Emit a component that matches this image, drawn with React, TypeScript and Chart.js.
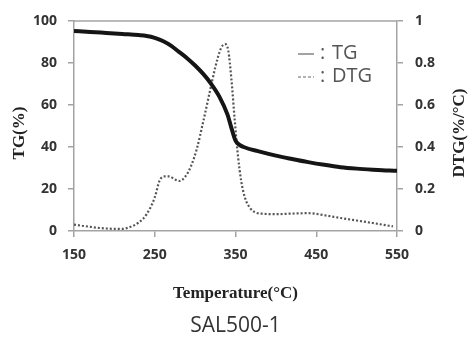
import React, { useEffect, useRef } from "react";
import { Chart, registerables } from "chart.js";

Chart.register(...registerables);

const tgTemp = [150, 170, 190, 210, 230, 240, 250, 260, 270, 280, 290, 300, 310, 320, 330, 340, 345, 350, 355, 360, 380, 400, 420, 440, 460, 480, 500, 520, 540, 550];
const tgValues = [95.2, 94.8, 94.3, 93.8, 93.3, 92.9, 92.0, 90.5, 88.3, 85.3, 82.3, 78.8, 74.8, 70.0, 64.0, 55.5, 49.0, 43.0, 41.0, 40.0, 37.8, 35.9, 34.3, 32.8, 31.5, 30.4, 29.7, 29.2, 28.8, 28.7];

const dtgTemp = [150, 160, 170, 180, 190, 200, 210, 220, 230, 240, 250, 256, 262, 268, 275, 281, 288, 295, 302, 310, 318, 325, 332, 337, 341, 345, 349, 353, 357, 362, 368, 375, 385, 400, 420, 440, 460, 480, 500, 520, 540, 545];
const dtgValues = [0.03, 0.025, 0.02, 0.015, 0.012, 0.01, 0.01, 0.02, 0.04, 0.08, 0.16, 0.24, 0.26, 0.26, 0.245, 0.238, 0.26, 0.31, 0.39, 0.52, 0.66, 0.78, 0.87, 0.89, 0.86, 0.72, 0.53, 0.36, 0.24, 0.155, 0.11, 0.088, 0.082, 0.08, 0.083, 0.085, 0.075, 0.062, 0.05, 0.038, 0.025, 0.022];

const xTicks = [150, 250, 350, 450, 550];
const yTicks = [0, 20, 40, 60, 80, 100];
const y1Ticks = [0, 0.2, 0.4, 0.6, 0.8, 1];

const leftTitle = "TG(%)";
const rightTitle = "DTG(%/°C)";
const xTitle = "Temperature(°C)";
const caption = "SAL500-1";
const legendLabels = ["TG", "DTG"];

const axisGray = "#a3a3a3";
const tickFont = { family: "'Open Sans', sans-serif", size: 14, weight: "bold" as const };
const serif = "'Liberation Serif', 'Times New Roman', serif";

export default function App() {
  const ref = useRef<HTMLCanvasElement | null>(null);

  useEffect(() => {
    document.body.style.margin = "0";
    const canvas = ref.current;
    if (!canvas) return;

    const decor = {
      id: "decor",
      afterDraw(chart: any) {
        const ctx = chart.ctx;
        const a = chart.chartArea;
        ctx.save();
        ctx.strokeStyle = axisGray;
        ctx.lineWidth = 1.5;
        ctx.beginPath();
        ctx.moveTo(a.left, a.top);
        ctx.lineTo(a.right, a.top);
        ctx.stroke();

        ctx.fillStyle = "#222";
        ctx.font = `bold 17px ${serif}`;
        ctx.textAlign = "center";
        ctx.textBaseline = "middle";
        ctx.save();
        ctx.translate(20, 133);
        ctx.rotate(-Math.PI / 2);
        ctx.fillText(leftTitle, 0, 0);
        ctx.restore();
        ctx.save();
        ctx.translate(460, 133);
        ctx.rotate(-Math.PI / 2);
        ctx.fillText(rightTitle, 0, 0);
        ctx.restore();
        ctx.fillText(xTitle, (a.left + a.right) / 2, 294);

        ctx.fillStyle = "#333";
        ctx.font = "21px 'Open Sans', sans-serif";
        ctx.fillText(caption, (a.left + a.right) / 2, 326);

        ctx.strokeStyle = "#666";
        ctx.lineWidth = 1.2;
        ctx.beginPath();
        ctx.moveTo(298, 54);
        ctx.lineTo(314, 54);
        ctx.stroke();
        ctx.setLineDash([3, 2]);
        ctx.beginPath();
        ctx.moveTo(298, 77);
        ctx.lineTo(314, 77);
        ctx.stroke();
        ctx.setLineDash([]);
        ctx.fillStyle = "#555";
        ctx.font = "20px 'Open Sans', sans-serif";
        ctx.textAlign = "left";
        ctx.fillText(":", 320, 53);
        ctx.fillText(":", 320, 76);
        ctx.fillText(legendLabels[0], 332, 53);
        ctx.fillText(legendLabels[1], 332, 76);
        ctx.restore();
      },
    };

    const chart = new Chart(canvas, {
      type: "line",
      data: {
        datasets: [
          {
            label: legendLabels[0],
            data: tgTemp.map((t, i) => ({ x: t, y: tgValues[i] })),
            yAxisID: "y",
            borderColor: "#151515",
            borderWidth: 4,
            pointRadius: 0,
            cubicInterpolationMode: "monotone",
            fill: false,
          },
          {
            label: legendLabels[1],
            data: dtgTemp.map((t, i) => ({ x: t, y: dtgValues[i] })),
            yAxisID: "y1",
            borderColor: "#555",
            borderWidth: 2.2,
            borderDash: [2, 2],
            pointRadius: 0,
            cubicInterpolationMode: "monotone",
            fill: false,
          },
        ],
      },
      options: {
        animation: false,
        responsive: false,
        layout: { padding: { top: 21, left: 0, right: 0, bottom: 0 } },
        plugins: { legend: { display: false }, tooltip: { enabled: false } },
        scales: {
          x: {
            type: "linear",
            min: 150,
            max: 550,
            afterBuildTicks: (s: any) => {
              s.ticks = xTicks.map((v) => ({ value: v }));
            },
            afterFit: (s: any) => {
              s.height = 107;
            },
            grid: { drawOnChartArea: false, color: axisGray, tickLength: 6, lineWidth: 1.5 },
            border: { color: axisGray, width: 1.5 },
            ticks: { font: tickFont, color: "#333", padding: 10, maxRotation: 0 },
          },
          y: {
            position: "left",
            min: 0,
            max: 100,
            afterBuildTicks: (s: any) => {
              s.ticks = yTicks.map((v) => ({ value: v }));
            },
            afterFit: (s: any) => {
              s.width = 74;
            },
            grid: { drawOnChartArea: false, color: axisGray, tickLength: 6, lineWidth: 1.5 },
            border: { color: axisGray, width: 1.5 },
            ticks: { font: tickFont, color: "#333", padding: 11 },
          },
          y1: {
            position: "right",
            min: 0,
            max: 1,
            afterBuildTicks: (s: any) => {
              s.ticks = y1Ticks.map((v) => ({ value: v }));
            },
            afterFit: (s: any) => {
              s.width = 77;
            },
            grid: { drawOnChartArea: false, color: axisGray, tickLength: 6, lineWidth: 1.5 },
            border: { color: axisGray, width: 1.5 },
            ticks: {
              font: tickFont,
              color: "#333",
              padding: 12,
              callback: (v: any) => String(Number(v)),
            },
          },
        },
      },
      plugins: [decor],
    });

    return () => chart.destroy();
  }, []);

  return <canvas ref={ref} width={474} height={338} style={{ display: "block" }} />;
}
